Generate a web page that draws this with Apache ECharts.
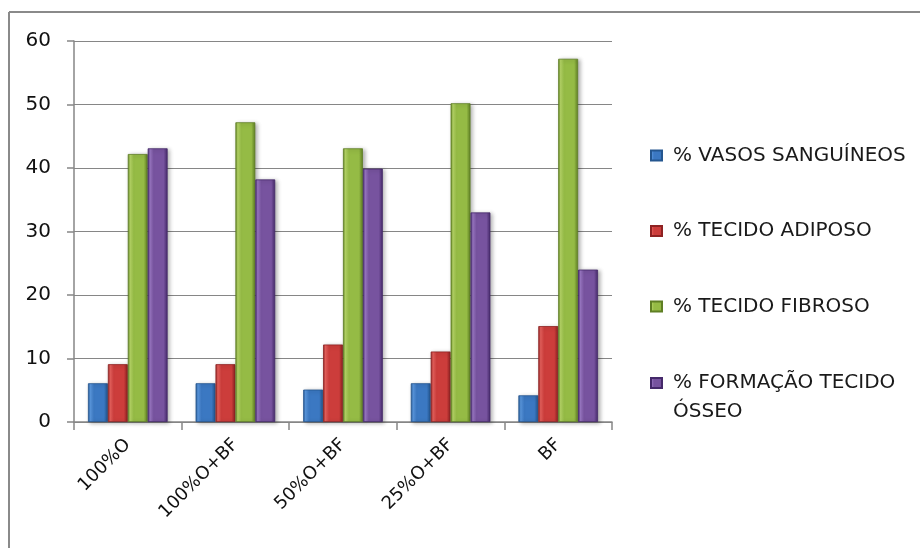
<!DOCTYPE html>
<html>
<head>
<meta charset="utf-8">
<style>
  html, body { margin: 0; padding: 0; background: #fff; }
  #chart { width: 920px; height: 548px; }
</style>
<script src="https://cdn.jsdelivr.net/npm/echarts@6/dist/echarts.min.js"></script>
</head>
<body>
<div id="chart"></div>
<script>
// Groups on the x axis
const categories = ['100%O', '100%O+BF', '50%O+BF', '25%O+BF', 'BF'];

// Percentages per group
const vasosSanguineos = [6.1, 6.1, 5.1, 6.1, 4.2];
const tecidoAdiposo   = [9.1, 9.1, 12.2, 11.1, 15.1];
const tecidoFibroso   = [42.2, 47.2, 43.1, 50.2, 57.2];
const formacaoOsseo   = [43.1, 38.2, 39.9, 33.0, 24.0];

const yTicks = { min: 0, max: 60, interval: 10 };

const seriesNames = [
  '% VASOS SANGUÍNEOS',
  '% TECIDO ADIPOSO',
  '% TECIDO FIBROSO',
  '% FORMAÇÃO TECIDO ÓSSEO'
];

// [edge, highlight, body] shades for the bevelled bars
const palette = [
  ['#24568f', '#5a98e0', '#3b78c2'],
  ['#8e2222', '#e8605c', '#cc3d3b'],
  ['#5f7f24', '#b6d766', '#95bb45'],
  ['#45296a', '#9a77c4', '#77539f']
];

function barFill(c) {
  return new echarts.graphic.LinearGradient(0, 0, 1, 0, [
    { offset: 0, color: c[0] },
    { offset: 0.12, color: c[1] },
    { offset: 0.3, color: c[2] },
    { offset: 0.8, color: c[2] },
    { offset: 1, color: c[0] }
  ]);
}

const values = [vasosSanguineos, tecidoAdiposo, tecidoFibroso, formacaoOsseo];

const chart = echarts.init(document.getElementById('chart'), null, { renderer: 'canvas' });

const axisGray = '#868686';
const font = '"DejaVu Sans", sans-serif';
const legendLine = 29;

const legendBase = {
  orient: 'vertical',
  left: 650,
  padding: 0,
  itemWidth: 11,
  itemHeight: 10,
  icon: 'rect',
  textStyle: {
    fontFamily: font, fontSize: 20, color: '#1a1a1a',
    lineHeight: legendLine, padding: [0, 0, 0, 6]
  }
};

chart.setOption({
  animation: false,
  backgroundColor: '#ffffff',
  color: palette.map(c => c[2]),
  graphic: [
    // frame lines along the top and left of the chart area
    { type: 'line', shape: { x1: 9, y1: 12, x2: 920, y2: 12 }, style: { stroke: '#8a8a8a', lineWidth: 2 } },
    { type: 'line', shape: { x1: 9, y1: 12, x2: 9, y2: 548 }, style: { stroke: '#8a8a8a', lineWidth: 2 } }
  ],
  grid: { left: 74, right: 308, top: 41, bottom: 126, containLabel: false },
  legend: [
    Object.assign({}, legendBase, {
      top: 141,
      itemGap: 75.5 - legendLine,
      data: seriesNames.slice(0, 3)
    }),
    // last entry wraps onto a second line; the empty first line keeps the
    // swatch level with the first line of text
    Object.assign({}, legendBase, {
      top: 383 - legendLine * 1.5,
      data: [seriesNames[3]],
      formatter: function () { return ' \n% FORMAÇÃO TECIDO\nÓSSEO'; }
    })
  ],
  xAxis: {
    type: 'category',
    data: categories,
    axisLine: { lineStyle: { color: axisGray, width: 1.5 } },
    axisTick: { show: true, length: 8, lineStyle: { color: axisGray, width: 1.5 } },
    axisLabel: { rotate: 45, margin: 20, fontFamily: font, fontSize: 18, color: '#111' }
  },
  yAxis: {
    type: 'value',
    min: yTicks.min,
    max: yTicks.max,
    interval: yTicks.interval,
    axisLine: { show: true, lineStyle: { color: axisGray, width: 1.5 } },
    axisTick: { show: true, length: 7, lineStyle: { color: axisGray, width: 1.5 } },
    axisLabel: { margin: 23, fontFamily: font, fontSize: 20, color: '#111' },
    splitLine: { lineStyle: { color: axisGray, width: 1.2 } }
  },
  series: values.map((data, i) => ({
    name: seriesNames[i],
    type: 'bar',
    data: data,
    barGap: '0%',
    barCategoryGap: '26%',
    itemStyle: {
      color: barFill(palette[i]),
      borderColor: palette[i][0],
      borderWidth: 0.8,
      shadowColor: 'rgba(0,0,0,0.3)',
      shadowBlur: 4,
      shadowOffsetX: 2,
      shadowOffsetY: 1
    }
  }))
});
</script>
</body>
</html>
